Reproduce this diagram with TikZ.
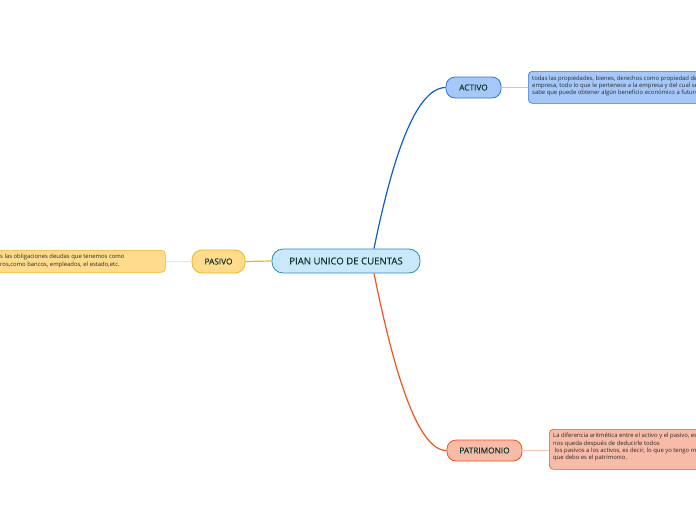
\documentclass[tikz,border=0pt]{standalone}
\usepackage{fontspec}
\setmainfont{Open Sans}
\newfontfamily\labfont[FakeBold=0.5]{Open Sans}
\begin{document}
\begin{tikzpicture}[x=1pt,y=-1pt,
  lbl/.style={draw, rounded corners=9pt, line width=0.8pt, font=\labfont\fontsize{8.3}{10}\selectfont, text=labtxt, inner sep=0pt, align=center},
  det/.style={draw, rounded corners=4pt, line width=0.6pt, inner sep=0pt, anchor=north west},
  dtxt/.style={font=\fontsize{5.9}{7.4}\selectfont, text=dettxt, align=left, anchor=north west, inner sep=0pt},
  conn/.style={line width=1.2pt},
  sub/.style={line width=1.1pt}]
\definecolor{labtxt}{HTML}{103A30}
\definecolor{dettxt}{HTML}{2A2A2A}
\definecolor{cfill}{HTML}{C9E9FB}
\definecolor{cline}{HTML}{2E86C8}
\definecolor{afill}{HTML}{A6C8F8}
\definecolor{aline}{HTML}{3374D8}
\definecolor{acurve}{HTML}{0F5FCF}
\definecolor{asub}{HTML}{A9CBF5}
\definecolor{pfill}{HTML}{FEDB8D}
\definecolor{pline}{HTML}{F2B41D}
\definecolor{psub}{HTML}{FDE6AE}
\definecolor{tfill}{HTML}{F8BBA7}
\definecolor{tline}{HTML}{EC5322}
\definecolor{tcurve}{HTML}{F0561F}
\definecolor{tsub}{HTML}{F9C6B3}
\useasboundingbox (0,0) rectangle (696,520);
\clip (0,0) rectangle (696,520);
\fill[white] (0,0) rectangle (696,520);

% detail boxes
\node[det, fill=afill, draw=aline, minimum width=200pt, minimum height=32pt] (ad) at (528,71) {};
\node[det, fill=pfill, draw=pline, minimum width=200pt, minimum height=22pt] (pd) at (-35,250) {};
\node[det, fill=tfill, draw=tline, minimum width=200pt, minimum height=40pt] (td) at (549,429) {};

\node[dtxt] (adt) at (532,75.5)
 {todas las propiedades, bienes, derechos como propiedad de la\\empresa, todo lo que le pertenece a la empresa y del cual se\\sabe que puede obtener algún beneficio económico a futuro};
\node[dtxt] (pdt) at (0,254)
 {s las obligaciones deudas que tenemos como\\ros,como bancos, empleados, el estado,etc.};
\node[dtxt] (tdt) at (553,433)
 {La diferencia aritmética entre el activo y el pasivo, es lo que\\nos queda después de deducirle todos\\\ los pasivos a los activos, es decir, lo que yo tengo menos lo\\que debo es el patrimonio.};

% main nodes
\node[lbl, fill=cfill, draw=cline, minimum width=148pt, minimum height=24pt, font=\labfont\fontsize{9.6}{11}\selectfont, rounded corners=11pt] (c) at (346,261) {PIAN UNICO DE CUENTAS};
\node[lbl, fill=afill, draw=aline, minimum width=55pt, minimum height=21pt] (a) at (473.5,87.5) {ACTIVO};
\node[lbl, fill=pfill, draw=pline, minimum width=53pt, minimum height=23pt, rounded corners=10pt] (p) at (218.5,261.5) {PASIVO};
\node[lbl, fill=tfill, draw=tline, minimum width=75pt, minimum height=21pt] (t) at (484.5,450.5) {PATRIMONIO};

% connectors
\draw[conn, acurve] ([xshift=28pt]c.north) .. controls (392,160) and (415,88) .. (a.west);
\draw[conn, tcurve] ([xshift=28pt]c.south) .. controls (392,362) and (416,451) .. (t.west);
\draw[conn, pline] (c.west) -- (p.east);
\draw[sub, asub] (a.east) -- (ad.west |- a.east);
\draw[sub, psub] (p.west) -- (pd.east |- p.west);
\draw[sub, tsub] (t.east) -- (td.west |- t.east);
\end{tikzpicture}
\end{document}
